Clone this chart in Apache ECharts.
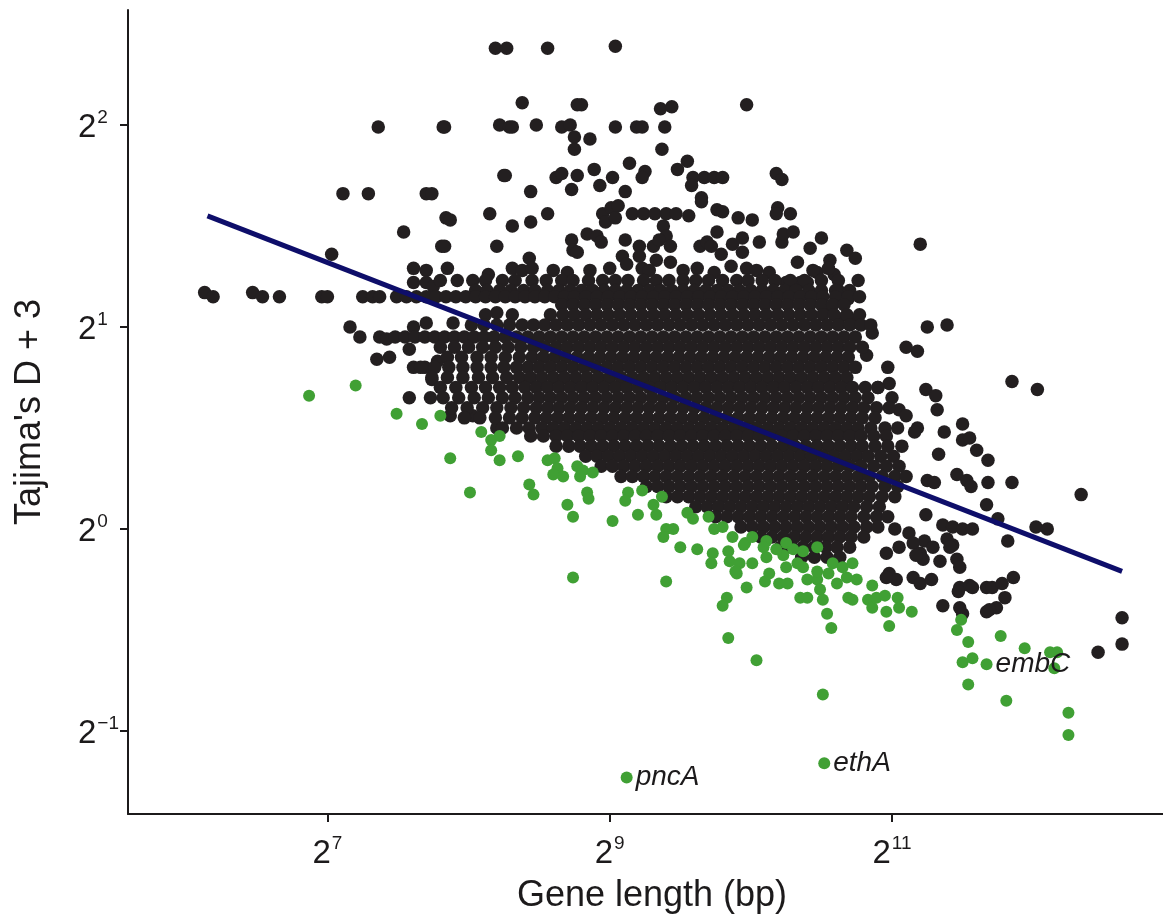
<!DOCTYPE html>
<html><head><meta charset="utf-8">
<script src="https://cdn.jsdelivr.net/npm/echarts@6/dist/echarts.min.js"></script>
<style>html,body{margin:0;padding:0;background:#fff}#c{width:1163px;height:920px}</style>
</head><body><div id="c"></div>
<script>
// All values are log2 exponents: x = log2(gene length, bp), y = log2(Tajima's D + 3)
const xTicks = [7, 9, 11];
const yTicks = [-1, 0, 1, 2];
const xTitle = 'Gene length (bp)';
const yTitle = "Tajima's D + 3";

const fitLineX = [6.15, 12.63];
const fitLineY = [1.55, -0.21];

// scattered (non-significant) genes
const blackSparse = [
[6.13,1.17],[6.19,1.15],[6.47,1.17],[6.54,1.15],[6.66,1.15],[6.96,1.15],[7.00,1.15],[7.25,1.15],[7.32,1.15],[7.37,1.15],
[7.11,1.66],[7.29,1.66],[7.70,1.66],[7.84,1.54],[7.87,1.53],[8.15,1.56],[8.25,1.75],[7.54,1.47],[7.81,1.40],[7.83,1.40],
[8.20,1.40],[7.03,1.36],[7.61,1.29],[7.70,1.28],[7.85,1.29],[8.14,1.26],[7.61,1.22],[7.70,1.22],[7.75,1.20],[8.20,1.07],
[7.16,1.00],[7.23,0.95],[7.37,0.95],[7.42,0.94],[7.61,1.00],[7.70,1.02],[7.89,1.02],[7.35,0.84],[7.44,0.85],[7.58,0.89],
[7.61,0.80],[7.69,0.80],[7.78,0.83],[7.74,0.74],[7.87,0.56],[8.03,0.56],[8.20,0.50],[7.36,1.99],
[8.19,2.38],[8.27,2.38],[8.56,2.38],[9.04,2.39],[8.38,2.11],[8.77,2.10],[8.80,2.10],[9.36,2.08],[9.44,2.09],[9.97,2.10],
[7.82,1.99],[7.83,1.99],[8.22,2.00],[8.29,1.99],[8.31,1.99],[8.48,2.00],[8.66,1.99],[8.72,2.00],[8.75,1.94],[8.86,1.93],
[8.75,1.88],[9.04,1.99],[9.19,1.99],[9.23,1.99],[9.39,1.99],[9.37,1.88],[7.74,1.66],[8.26,1.75],[8.44,1.67],[8.62,1.74],
[8.66,1.76],[8.77,1.75],[8.73,1.68],[8.89,1.78],[8.93,1.70],[9.02,1.74],[9.11,1.67],[9.14,1.81],[9.25,1.77],[9.23,1.74],
[9.48,1.78],[9.55,1.82],[9.59,1.74],[9.67,1.74],[9.74,1.74],[9.80,1.74],[9.58,1.70],[9.65,1.64],[9.65,1.62],[10.18,1.76],
[10.22,1.73],[8.31,1.50],[8.44,1.52],[8.56,1.56],[8.95,1.56],[9.01,1.59],[9.06,1.60],[8.97,1.52],[9.04,1.54],[9.16,1.56],
[9.24,1.56],[9.32,1.56],[9.40,1.56],[9.47,1.56],[9.38,1.50],[9.40,1.45],[9.56,1.55],[9.76,1.58],[9.80,1.57],[9.91,1.54],
[10.01,1.53],[10.19,1.59],[10.18,1.56],[10.28,1.56],[8.43,1.34],[8.31,1.29],[8.38,1.28],[8.45,1.29],[8.73,1.43],[8.74,1.38],
[8.77,1.37],[8.84,1.46],[8.91,1.45],[8.94,1.42],[9.11,1.43],[9.21,1.40],[9.21,1.35],[9.31,1.40],[9.35,1.43],[9.43,1.40],
[9.33,1.33],[9.43,1.32],[9.09,1.35],[9.12,1.31],[9.23,1.29],[9.28,1.28],[9.64,1.40],[9.69,1.42],[9.72,1.40],[9.76,1.47],
[9.79,1.36],[9.87,1.41],[9.94,1.44],[9.94,1.37],[10.06,1.42],[10.22,1.42],[10.23,1.46],[10.30,1.47],[10.42,1.39],[10.50,1.44],
[10.33,1.32],[10.47,1.27],[10.62,1.18],[10.68,1.38],[10.13,1.27],[10.25,1.22],[9.86,1.30],[9.97,1.29],[11.20,1.41],[10.76,1.23],
[10.69,1.14],[10.74,1.34],[10.44,1.28],[10.35,1.22],[10.40,1.22],[10.56,1.33],[10.59,1.26],[10.52,1.08],[10.62,1.04],
[8.60,1.28],[8.70,1.27],[8.86,1.28],[9.00,1.29],[9.52,1.28],[9.62,1.29],[9.74,1.27],[10.04,1.28],[10.55,1.29],
[10.71,1.03],[10.72,1.02],[10.86,0.97],[10.82,0.86],[11.25,1.00],[11.39,1.01],[11.10,0.90],[11.18,0.88],[10.97,0.80],[10.98,0.72],
[11.00,0.65],[10.90,0.70],[11.05,0.59],[11.10,0.56],[11.18,0.50],[11.16,0.48],[11.24,0.69],[11.31,0.66],[11.32,0.59],[11.37,0.48],
[11.50,0.52],[11.50,0.44],[11.55,0.45],[11.60,0.39],[11.68,0.34],[11.85,0.73],[12.03,0.69],[11.33,0.37],[11.25,0.24],[11.30,0.23],
[11.46,0.27],[11.53,0.24],[11.56,0.21],[11.68,0.23],[11.85,0.23],[12.34,0.17],[11.67,0.12],[11.75,0.05],[12.02,0.01],[12.10,0.00],
[11.82,-0.06],[11.36,0.02],[11.43,0.01],[11.50,0.00],[11.57,0.00],[11.23,-0.06],[11.29,-0.09],[11.43,-0.08],[11.34,-0.16],[11.46,-0.15],
[11.48,-0.19],[11.12,-0.02],[11.15,-0.07],[11.02,0.00],[11.05,-0.09],[11.20,-0.12],[11.22,-0.15],[11.15,-0.24],[11.20,-0.27],[11.28,-0.25],
[10.98,-0.22],[11.03,-0.25],[11.48,-0.29],[11.55,-0.28],[11.57,-0.29],[11.67,-0.29],[11.71,-0.29],[11.78,-0.27],[11.86,-0.24],[11.80,-0.34],
[11.74,-0.39],[11.69,-0.40],[11.36,-0.38],[11.48,-0.39],[11.50,-0.42],[12.63,-0.44],[12.63,-0.57],[12.46,-0.61],[11.24,0.07],[11.39,-0.05],
[11.41,-0.09],[10.96,-0.12],[10.96,-0.24],[11.17,-0.13],[11.47,-0.31],[11.67,-0.41]
];

// dense core, read row by row (y level, then gene-length exponents along that row)
const blackRowY = [1.23,1.18,1.15,1.11,1.06,1.01,0.95,0.90,0.85,0.80,0.75,0.70,0.65,0.60,0.55,0.50,0.46,0.41,0.36,0.31,0.26,0.21,0.16,0.11,0.06,0.01,-0.04,-0.09,-0.14];
const blackRowX = [
[7.80,7.92,8.03,8.12,8.24,8.33,8.45,8.55,8.66,8.74,8.85,8.95,9.04,9.13,9.24,9.33,9.42,9.52,9.61,9.70,9.80,9.90,9.98,10.08,10.17,10.28,10.38,10.50,10.62],
[8.05,8.13,8.22,8.30,8.39,8.47,8.56,8.64,8.72,8.80,8.88,8.96,9.04,9.12,9.20,9.28,9.36,9.44,9.52,9.60,9.68,9.76,9.84,9.92,10.00,10.08,10.16,10.24,10.32,10.41,10.50,10.60,10.70],
[7.49,7.56,7.63,7.70,7.77,7.84,7.91,7.98,8.05,8.12,8.19,8.26,8.33,8.40,8.47,8.54,8.61,8.68,8.75,8.83,8.91,8.99,9.07,9.15,9.23,9.31,9.39,9.47,9.55,9.63,9.71,9.79,9.87,9.95,10.03,10.11,10.19,10.27,10.35,10.43,10.51,10.60,10.69,10.77],
[8.66,8.74,8.82,8.90,8.98,9.06,9.14,9.22,9.30,9.38,9.46,9.54,9.62,9.70,9.78,9.86,9.94,10.02,10.10,10.18,10.26,10.34,10.42,10.50,10.58,10.66],
[8.12,8.31,8.58,8.67,8.75,8.83,8.91,8.99,9.07,9.15,9.23,9.31,9.39,9.47,9.55,9.63,9.71,9.79,9.87,9.95,10.03,10.11,10.19,10.27,10.35,10.43,10.51,10.59,10.68,10.77],
[8.02,8.11,8.20,8.29,8.38,8.46,8.54,8.62,8.70,8.78,8.86,8.94,9.02,9.10,9.18,9.26,9.34,9.42,9.50,9.58,9.66,9.74,9.82,9.90,9.98,10.06,10.14,10.22,10.30,10.38,10.46,10.54,10.62,10.70,10.78,10.85],
[7.48,7.55,7.62,7.69,7.76,7.83,7.90,7.97,8.04,8.11,8.18,8.26,8.34,8.42,8.50,8.58,8.66,8.74,8.82,8.90,8.98,9.06,9.14,9.22,9.30,9.38,9.46,9.54,9.62,9.70,9.78,9.86,9.94,10.02,10.10,10.18,10.26,10.34,10.42,10.50,10.58,10.66,10.74],
[7.80,7.90,8.00,8.10,8.19,8.28,8.37,8.46,8.54,8.62,8.70,8.78,8.86,8.94,9.02,9.10,9.18,9.26,9.34,9.42,9.50,9.58,9.66,9.74,9.82,9.90,9.98,10.06,10.14,10.22,10.30,10.38,10.46,10.54,10.62,10.70,10.79],
[7.85,7.95,8.06,8.16,8.26,8.36,8.45,8.53,8.61,8.69,8.77,8.85,8.93,9.01,9.09,9.17,9.25,9.33,9.41,9.49,9.57,9.65,9.73,9.81,9.89,9.97,10.05,10.13,10.21,10.29,10.37,10.45,10.53,10.61,10.69],
[7.66,7.76,7.86,7.96,8.06,8.16,8.25,8.34,8.42,8.50,8.58,8.66,8.74,8.82,8.90,8.98,9.06,9.14,9.22,9.30,9.38,9.46,9.54,9.62,9.70,9.78,9.86,9.94,10.02,10.10,10.18,10.26,10.34,10.42,10.50,10.58,10.66,10.74],
[7.74,7.85,7.96,8.07,8.17,8.27,8.36,8.44,8.52,8.60,8.68,8.76,8.84,8.92,9.00,9.08,9.16,9.24,9.32,9.40,9.48,9.56,9.64,9.72,9.80,9.88,9.96,10.04,10.12,10.20,10.28,10.36,10.44,10.52,10.60,10.68],
[7.80,7.91,8.02,8.12,8.22,8.31,8.40,8.48,8.56,8.64,8.72,8.80,8.88,8.96,9.04,9.12,9.20,9.28,9.36,9.44,9.52,9.60,9.68,9.76,9.84,9.92,10.00,10.08,10.16,10.24,10.32,10.40,10.48,10.56,10.64,10.72,10.81,10.90],
[7.58,7.73,7.82,7.93,8.04,8.14,8.24,8.33,8.42,8.50,8.58,8.66,8.74,8.82,8.90,8.98,9.06,9.14,9.22,9.30,9.38,9.46,9.54,9.62,9.70,9.78,9.86,9.94,10.02,10.10,10.18,10.26,10.34,10.42,10.50,10.58,10.66,10.74,10.83],
[7.88,7.99,8.10,8.20,8.30,8.39,8.48,8.56,8.64,8.72,8.80,8.88,8.96,9.04,9.12,9.20,9.28,9.36,9.44,9.52,9.60,9.68,9.76,9.84,9.92,10.00,10.08,10.16,10.24,10.32,10.40,10.48,10.56,10.64,10.72,10.80,10.89,10.98],
[7.97,8.08,8.19,8.29,8.38,8.47,8.55,8.63,8.71,8.79,8.87,8.95,9.03,9.11,9.19,9.27,9.35,9.43,9.51,9.59,9.67,9.75,9.83,9.91,9.99,10.07,10.15,10.23,10.31,10.39,10.47,10.55,10.63,10.71,10.79,10.88],
[8.24,8.34,8.43,8.52,8.60,8.68,8.76,8.84,8.92,9.00,9.08,9.16,9.24,9.32,9.40,9.48,9.56,9.64,9.72,9.80,9.88,9.96,10.04,10.12,10.20,10.28,10.36,10.44,10.52,10.60,10.68,10.76,10.85,10.95,11.04],
[8.44,8.53,8.62,8.70,8.78,8.86,8.94,9.02,9.10,9.18,9.26,9.34,9.42,9.50,9.58,9.66,9.74,9.82,9.90,9.98,10.06,10.14,10.22,10.30,10.38,10.46,10.54,10.62,10.70,10.78,10.87,10.96],
[8.62,8.71,8.79,8.87,8.95,9.03,9.11,9.19,9.27,9.35,9.43,9.51,9.59,9.67,9.75,9.83,9.91,9.99,10.07,10.15,10.23,10.31,10.39,10.47,10.55,10.63,10.71,10.79,10.88,10.97,11.07],
[8.83,8.91,8.99,9.07,9.15,9.23,9.31,9.39,9.47,9.55,9.63,9.71,9.79,9.87,9.95,10.03,10.11,10.19,10.27,10.35,10.43,10.51,10.59,10.67,10.75,10.83,10.92,11.01],
[8.94,9.02,9.10,9.18,9.26,9.34,9.42,9.50,9.58,9.66,9.74,9.82,9.90,9.98,10.06,10.14,10.22,10.30,10.38,10.46,10.54,10.62,10.70,10.78,10.87,10.96,11.05],
[9.08,9.16,9.24,9.32,9.40,9.48,9.56,9.64,9.72,9.80,9.88,9.96,10.04,10.12,10.20,10.28,10.36,10.44,10.52,10.60,10.68,10.76,10.84,10.93,11.02,11.10],
[9.26,9.34,9.42,9.50,9.58,9.66,9.74,9.82,9.90,9.98,10.06,10.14,10.22,10.30,10.38,10.46,10.54,10.62,10.70,10.78,10.86,10.95,11.04],
[9.40,9.48,9.56,9.64,9.72,9.80,9.88,9.96,10.04,10.12,10.20,10.28,10.36,10.44,10.52,10.60,10.68,10.76,10.84,10.93,11.02],
[9.61,9.69,9.77,9.85,9.93,10.01,10.09,10.17,10.25,10.33,10.41,10.49,10.57,10.65,10.73,10.82,10.91],
[9.75,9.83,9.91,9.99,10.07,10.15,10.23,10.31,10.39,10.47,10.55,10.63,10.71,10.80,10.89,10.97],
[9.93,10.01,10.09,10.17,10.25,10.33,10.41,10.49,10.57,10.65,10.73,10.82,10.90],
[10.07,10.15,10.23,10.31,10.39,10.47,10.55,10.63,10.71,10.80],
[10.21,10.29,10.37,10.45,10.53,10.61,10.70],
[10.36,10.45,10.54,10.63]
];

// genes with significantly negative Tajima's D (green)
const greenPts = [
[6.87,0.66],[7.20,0.71],[7.49,0.57],[7.67,0.52],[7.80,0.56],[7.87,0.35],[8.01,0.18],[8.09,0.48],[8.16,0.44],[8.22,0.46],
[8.16,0.39],[8.22,0.34],[8.35,0.36],[8.43,0.22],[8.46,0.17],[8.56,0.34],[8.61,0.35],[8.63,0.30],[8.67,0.26],[8.60,0.27],
[8.74,-0.24],[8.70,0.12],[8.74,0.06],[8.77,0.31],[8.81,0.29],[8.88,0.28],[8.79,0.26],[8.84,0.18],[8.85,0.15],[9.02,0.04],
[9.13,0.18],[9.11,0.14],[9.20,0.07],[9.23,0.19],[9.31,0.12],[9.33,0.07],[9.37,0.16],[9.40,0.00],[9.38,-0.04],[9.45,0.00],
[9.40,-0.26],[9.50,-0.09],[9.62,-0.10],[9.55,0.08],[9.59,0.05],[9.70,0.06],[9.73,-0.12],[9.72,-0.17],[9.74,0.00],[9.80,0.01],
[9.84,-0.11],[9.85,-0.16],[9.90,-0.22],[9.92,-0.17],[10.01,-0.17],[9.83,-0.34],[9.80,-0.38],[9.97,-0.29],[9.84,-0.54],[10.04,-0.65],
[9.87,-0.04],[9.96,-0.07],[10.01,-0.04],[9.89,-0.21],[10.11,-0.14],[10.10,-0.26],[10.13,-0.22],[10.20,-0.27],[10.26,-0.27],[10.23,-0.13],
[10.25,-0.19],[10.33,-0.17],[10.37,-0.19],[10.35,-0.34],[10.40,-0.34],[10.40,-0.25],[10.47,-0.25],[10.49,-0.30],[10.51,-0.35],[10.54,-0.42],
[10.57,-0.49],[10.47,-0.21],[10.55,-0.22],[10.61,-0.27],[10.69,-0.34],[10.72,-0.35],[10.68,-0.24],[10.75,-0.25],[10.86,-0.28],[10.83,-0.35],
[10.86,-0.39],[10.89,-0.34],[10.95,-0.33],[10.96,-0.41],[11.04,-0.34],[11.05,-0.39],[11.14,-0.41],[10.98,-0.48],[10.11,-0.06],[10.18,-0.10],
[10.25,-0.07],[10.30,-0.10],[10.37,-0.11],[10.47,-0.09],[10.51,-0.82],[11.49,-0.45],[11.46,-0.50],[11.54,-0.56],[11.50,-0.66],[11.57,-0.64],
[11.54,-0.77],[11.77,-0.53],[11.94,-0.59],[12.12,-0.61],[12.17,-0.61],[12.15,-0.69],[11.81,-0.85],[12.25,-0.91],[12.25,-1.02],[9.95,-0.08],
[10.09,-0.09],[10.58,-0.17],[10.65,-0.19],[10.72,-0.17]
];

const labeledGenes = ['pncA', 'ethA', 'embC'];
const labeledX = [9.12, 10.52, 11.67];
const labeledY = [-1.23, -1.16, -0.67];

// ---- build series data ----
const blackData = blackSparse.slice();
blackRowY.forEach((y, i) => blackRowX[i].forEach(x => blackData.push([x, y])));
const labeledData = labeledGenes.map((n, i) => ({ name: n, value: [labeledX[i], labeledY[i]] }));
const lineData = fitLineX.map((x, i) => [x, fitLineY[i]]);

const FONT = '"Liberation Sans", Arial, Helvetica, sans-serif';
const INK = '#1c1a1b';
const supFmt = v => '{b|2}{s|' + String(v).replace('-', '\u2212') + '}';
const richLbl = {
  b: { fontSize: 33, fontFamily: FONT, color: INK, lineHeight: 38, verticalAlign: 'bottom' },
  s: { fontSize: 19, fontFamily: FONT, color: INK, lineHeight: 38, verticalAlign: 'top', padding: [2, 0, 0, 1] }
};

const chart = echarts.init(document.getElementById('c'), null, { renderer: 'canvas' });
chart.setOption({
  animation: false,
  backgroundColor: '#ffffff',
  grid: { left: 128, right: 0, top: 10, bottom: 106, containLabel: false, outerBoundsMode: 'none' },
  xAxis: {
    type: 'value', min: 5.587, max: 12.92,
    name: xTitle, nameLocation: 'middle', nameGap: 64,
    nameTextStyle: { fontSize: 36, fontFamily: FONT, color: INK, padding: [0, 0, 0, 13] },
    axisLine: { show: true, onZero: false, lineStyle: { color: INK, width: 2 } },
    axisTick: { show: true, length: 8, lineStyle: { color: INK, width: 2 }, customValues: xTicks },
    axisLabel: { margin: 18, formatter: supFmt, rich: richLbl, customValues: xTicks },
    splitLine: { show: false }
  },
  yAxis: {
    type: 'value', min: -1.411, max: 2.569,
    name: yTitle, nameLocation: 'middle', nameGap: 80, nameRotate: 90,
    nameTextStyle: { fontSize: 36, fontFamily: FONT, color: INK },
    axisLine: { show: true, onZero: false, lineStyle: { color: INK, width: 2 } },
    axisTick: { show: true, length: 8, lineStyle: { color: INK, width: 2 }, customValues: yTicks },
    axisLabel: { margin: 50, align: 'left', formatter: supFmt, rich: richLbl, customValues: yTicks },
    splitLine: { show: false }
  },
  series: [
    { type: 'scatter', name: 'genes', data: blackData, symbol: 'circle', symbolSize: 13.5,
      itemStyle: { color: '#231f20', opacity: 1 }, silent: true, z: 2 },
    { type: 'scatter', name: 'significant', data: greenPts, symbol: 'circle', symbolSize: 12,
      itemStyle: { color: '#40a034', opacity: 1 }, silent: true, z: 3 },
    { type: 'scatter', name: 'labeled', data: labeledData, symbol: 'circle', symbolSize: 12,
      itemStyle: { color: '#40a034', opacity: 1 }, silent: true, z: 4,
      label: { show: true, position: 'right', distance: 3, formatter: '{b}',
        fontSize: 28, fontStyle: 'italic', fontFamily: FONT, color: INK } },
    { type: 'line', name: 'fit', data: lineData, symbol: 'none', silent: true, z: 5,
      lineStyle: { color: '#0e0e6a', width: 5 } }
  ]
});
</script></body></html>
